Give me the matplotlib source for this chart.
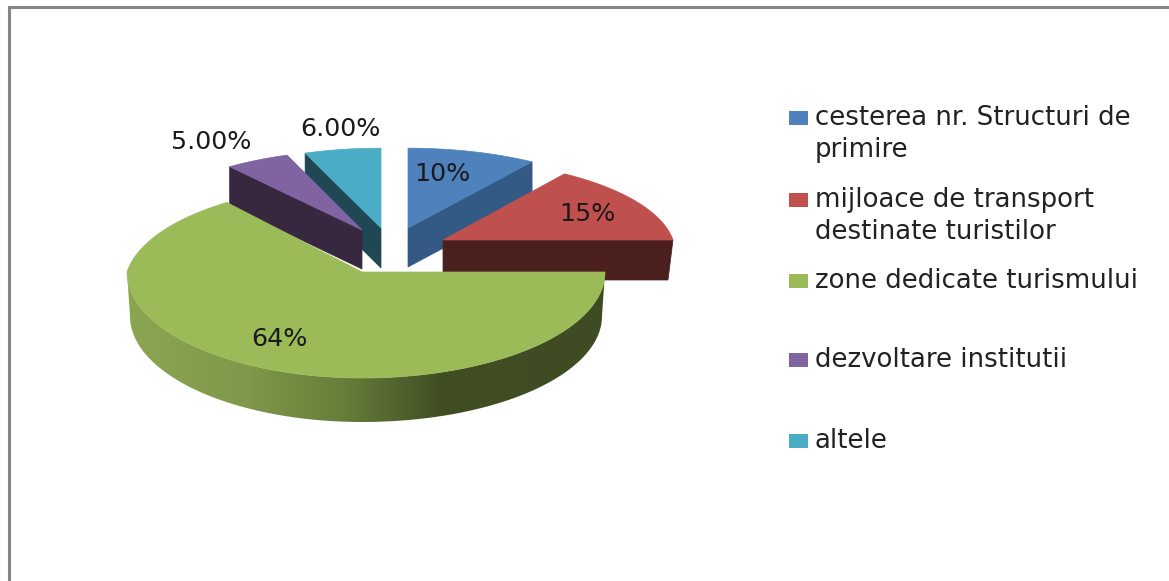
import numpy as np
import matplotlib
matplotlib.use('Agg')
import matplotlib.pyplot as plt
from matplotlib.colors import LinearSegmentedColormap
from matplotlib.patches import Polygon, Rectangle

categories = ['cesterea nr. Structuri de\nprimire', 'mijloace de transport\ndestinate turistilor',
              'zone dedicate turismului', 'dezvoltare institutii', 'altele']
values = [10, 15, 64, 5, 6]
value_labels = ['10%', '15%', '64%', '5.00%', '6.00%']

top_colors = ['#4F81BD', '#C0504D', '#9BBB59', '#8064A2', '#4BACC6']
side_colors = ['#335A85', '#4A1F1E', '#3F4B22', '#37273F', '#1F4854']

# layout in pixels of the 1169x581 picture
W, H = 1169, 581
apex = [(408, 228), (443, 240), (362, 272), (362, 230), (381, 228)]
rx_right = [235, 230, 243, 230, 233]
rx_left = [235, 230, 235, 230, 233]
ry_far = [91, 91, 100, 91, 91]
ry_near = 106
depth = [39, 40, 44, 39, 40]
persp = 0.14
label_pos = [(442, 174), (587, 214), (279, 339), (211, 142), (340, 129)]
legend_y = [118, 200, 281, 360, 441]
draw_order = [4, 0, 3, 1, 2]


def arc(i, a0, a1, shrink=0, dy=0):
    # angle clockwise from 12 o'clock, far half squashed with perspective
    t = np.radians(np.linspace(a0, a1, 300))
    u, v = np.sin(t), np.cos(t)
    w = 1 + persp * np.clip(v, 0, None)
    r = np.where(u < 0, rx_left[i], rx_right[i]) - shrink
    x = apex[i][0] + r * u / w
    y = apex[i][1] - np.where(v > 0, ry_far[i] * v / w, ry_near * v) + dy
    return np.column_stack([x, y])


fig = plt.figure(figsize=(W / 100, H / 100), dpi=100)
ax = fig.add_axes([0, 0, 1, 1])
ax.axis('off')

ends = np.cumsum(values) / np.sum(values) * 360
starts = np.concatenate([[0], ends[:-1]])

rim_cmap = LinearSegmentedColormap.from_list('rim', [(0, '#8BA653'), (0.25, '#7F9849'), (0.45, '#667F3A'),
                                                     (0.66, '#414D23'), (1, '#3F4B22')])

for n, i in enumerate(draw_order):
    top = arc(i, starts[i], ends[i])
    centre = np.array([apex[i]], dtype=float)
    d = np.array([0, depth[i]])
    if i == 2:
        # outer rim with the horizontal gradient
        rim = np.vstack([arc(i, 90, 270), arc(i, 90, 270, 3, depth[i])[::-1]])
        im = ax.imshow(np.linspace(0, 1, 256)[None, :], extent=[127, 605, 425, 270], cmap=rim_cmap,
                       aspect='auto', zorder=2 + n)
        clip = Polygon(rim, closed=True, transform=ax.transData, fc='none', ec='none')
        ax.add_patch(clip)
        im.set_clip_path(clip)
    else:
        # cut face seen from the front
        edge = top[0] if i in (3, 4) else top[-1]
        low = edge + d - [5 if i == 1 else 0, 0]
        face = np.vstack([centre, [edge], [low], centre + d])
        ax.add_patch(Polygon(face, closed=True, fc=side_colors[i], ec=side_colors[i], lw=0.5, zorder=2 + n))
    ax.add_patch(Polygon(np.vstack([centre, top]), closed=True, fc=top_colors[i], ec=top_colors[i], lw=0.5,
                         zorder=2.5 + n))

for lab, (x, y) in zip(value_labels, label_pos):
    ax.text(x, y, lab, fontsize=18.3, color='#1a1a1a', ha='center', va='center', zorder=20)

for name, col, y in zip(categories, top_colors, legend_y):
    ax.add_patch(Rectangle((789, y - 7), 19, 14, fc=col, ec='none', zorder=20))
    ax.text(815, y + 16 * name.count('\n'), name, fontsize=18.7, color='#222222', ha='left', va='center',
            linespacing=1.3, zorder=20)

# chart frame, only top and left are in the picture
ax.plot([9, 9, W], [H, 6.5, 6.5], color='#858585', lw=2.2, solid_joinstyle='miter', zorder=1)

ax.set_xlim(0, W)
ax.set_ylim(H, 0)
fig.savefig('out.png', dpi=100)
